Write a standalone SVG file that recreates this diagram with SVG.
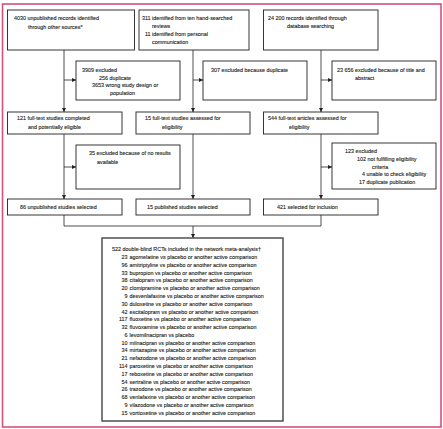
<svg xmlns="http://www.w3.org/2000/svg" width="443" height="429" viewBox="0 0 443 429">
<style>
.frame{fill:none;stroke:#d6507a;stroke-width:1.6}
.box{fill:#fff;stroke:#231f20;stroke-width:0.9}
.big{fill:#fff;stroke:#444;stroke-width:1.4}
.t{font-family:"Liberation Sans",Arial,sans-serif;font-size:5.4px;fill:#231f20;stroke:#231f20;stroke-width:0.12}
.n{text-anchor:end}
.c{fill:none;stroke:#231f20;stroke-width:0.8}
</style>
<defs>
<marker id="ah" markerUnits="userSpaceOnUse" markerWidth="4" markerHeight="4" viewBox="0 0 4 4" refX="4" refY="2" orient="auto">
<path d="M0,0 L4,2 L0,4 z" fill="#231f20"/>
</marker>
</defs>
<rect width="443" height="429" fill="#fff"/>
<rect class="frame" x="2.5" y="4" width="438.5" height="423"/>

<g id="connectors">
<line class="c" x1="64" y1="50" x2="64" y2="112" marker-end="url(#ah)"/>
<line class="c" x1="64" y1="80" x2="76" y2="80" marker-end="url(#ah)"/>
<line class="c" x1="64" y1="134" x2="64" y2="199" marker-end="url(#ah)"/>
<line class="c" x1="64" y1="167" x2="76" y2="167" marker-end="url(#ah)"/>
<line class="c" x1="193" y1="50" x2="193" y2="112" marker-end="url(#ah)"/>
<line class="c" x1="193" y1="80" x2="203" y2="80" marker-end="url(#ah)"/>
<line class="c" x1="193" y1="134" x2="193" y2="199" marker-end="url(#ah)"/>
<line class="c" x1="321" y1="50" x2="321" y2="112" marker-end="url(#ah)"/>
<line class="c" x1="321" y1="80" x2="332" y2="80" marker-end="url(#ah)"/>
<line class="c" x1="321" y1="134" x2="321" y2="199" marker-end="url(#ah)"/>
<line class="c" x1="321" y1="167" x2="332" y2="167" marker-end="url(#ah)"/>
<polyline class="c" points="64,215 64,226 321,226 321,215"/>
<line class="c" x1="193" y1="226" x2="193" y2="238" marker-end="url(#ah)"/>
</g>

<g id="unpublished-records">
<rect class="box" x="7.5" y="10" width="127" height="40"/>
<text class="t" x="14" y="20.3">4030 unpublished records identified</text>
<text class="t" x="28" y="28.6">through other sources*</text>
</g>
<g id="hand-searched">
<rect class="box" x="139" y="10" width="110" height="40"/>
<text class="t n" x="150.5" y="20.3">311</text>
<text class="t" x="152" y="20.3">identified from ten hand-searched</text>
<text class="t" x="152" y="28.1">reviews</text>
<text class="t n" x="150.5" y="35.9">11</text>
<text class="t" x="152" y="35.9">identified from personal</text>
<text class="t" x="152" y="43.7">communication</text>
</g>
<g id="database">
<rect class="box" x="263.5" y="10" width="114.5" height="40"/>
<text class="t" x="268" y="20.3">24 200 records identified through</text>
<text class="t" x="287" y="28.4">database searching</text>
</g>

<g id="excluded-3909">
<rect class="box" x="76" y="61" width="104" height="39"/>
<text class="t" x="82" y="72.2">3909 excluded</text>
<text class="t" x="99" y="79.8">256 duplicate</text>
<text class="t" x="92" y="87.4">3653 wrong study design or</text>
<text class="t" x="110" y="95">population</text>
</g>
<g id="excluded-307">
<rect class="box" x="203" y="61" width="104" height="39"/>
<text class="t" x="211" y="72.2">307 excluded because duplicate</text>
</g>
<g id="excluded-23656">
<rect class="box" x="332" y="61" width="104" height="39"/>
<text class="t" x="337" y="72.2">23 656 excluded because of title and</text>
<text class="t" x="355" y="79.8">abstract</text>
</g>

<g id="fulltext-121">
<rect class="box" x="7.5" y="112" width="114.5" height="22"/>
<text class="t" x="17" y="120.3">121 full-text studies completed</text>
<text class="t" x="28" y="128.6">and potentially eligible</text>
</g>
<g id="fulltext-15">
<rect class="box" x="136" y="112" width="114" height="22"/>
<text class="t" x="145" y="120.3">15 full-text studies assessed for</text>
<text class="t" x="162" y="128.6">eligibility</text>
</g>
<g id="fulltext-544">
<rect class="box" x="263.5" y="112" width="114.5" height="22"/>
<text class="t" x="268" y="120.3">544 full-text articles assessed for</text>
<text class="t" x="289" y="128.6">eligibility</text>
</g>

<g id="excluded-35">
<rect class="box" x="76" y="145" width="104" height="44"/>
<text class="t" x="89" y="155.3">35 excluded because of no results</text>
<text class="t" x="97" y="163.6">available</text>
</g>
<g id="excluded-123">
<rect class="box" x="332" y="143" width="104" height="46"/>
<text class="t" x="345" y="153">123 excluded</text>
<text class="t" x="357" y="160.8">102 not fulfilling eligibility</text>
<text class="t" x="372" y="168.6">criteria</text>
<text class="t" x="362" y="176.4">4 unable to check eligibility</text>
<text class="t" x="359" y="184.2">17 duplicate publication</text>
</g>

<g id="selected-86">
<rect class="box" x="7.5" y="199" width="114.5" height="16"/>
<text class="t" x="20" y="208.7">86 unpublished studies selected</text>
</g>
<g id="selected-15">
<rect class="box" x="136" y="199" width="114" height="16"/>
<text class="t" x="147" y="208.7">15 published studies selected</text>
</g>
<g id="selected-421">
<rect class="box" x="263.5" y="199" width="114.5" height="16"/>
<text class="t" x="277" y="208.7">421 selected for inclusion</text>
</g>

<g id="included-522">
<rect class="big" x="102" y="238" width="181" height="183"/>
<text class="t" x="112" y="251.3">522 double-blind RCTs included in the network meta-analysis†</text>
<g class="t">
<text class="n" x="127.5" y="259.1">23</text><text x="129.5" y="259.1">agomelatine vs placebo or another active comparison</text>
<text class="n" x="127.5" y="266.9">96</text><text x="129.5" y="266.9">amitriptyline vs placebo or another active comparison</text>
<text class="n" x="127.5" y="274.6">33</text><text x="129.5" y="274.6">bupropion vs placebo or another active comparison</text>
<text class="n" x="127.5" y="282.4">38</text><text x="129.5" y="282.4">citalopram vs placebo or another active comparison</text>
<text class="n" x="127.5" y="290.2">20</text><text x="129.5" y="290.2">clomipramine vs placebo or another active comparison</text>
<text class="n" x="127.5" y="298">9</text><text x="129.5" y="298">desvenlafaxine vs placebo or another active comparison</text>
<text class="n" x="127.5" y="305.8">30</text><text x="129.5" y="305.8">duloxetine vs placebo or another active comparison</text>
<text class="n" x="127.5" y="313.5">42</text><text x="129.5" y="313.5">escitalopram vs placebo or another active comparison</text>
<text class="n" x="127.5" y="321.3">117</text><text x="129.5" y="321.3">fluoxetine vs placebo or another active comparison</text>
<text class="n" x="127.5" y="329.1">32</text><text x="129.5" y="329.1">fluvoxamine vs placebo or another active comparison</text>
<text class="n" x="127.5" y="336.9">6</text><text x="129.5" y="336.9">levomilnacipran vs placebo</text>
<text class="n" x="127.5" y="344.7">10</text><text x="129.5" y="344.7">milnacipran vs placebo or another active comparison</text>
<text class="n" x="127.5" y="352.4">34</text><text x="129.5" y="352.4">mirtazapine vs placebo or another active comparison</text>
<text class="n" x="127.5" y="360.2">21</text><text x="129.5" y="360.2">nefazodone vs placebo or another active comparison</text>
<text class="n" x="127.5" y="368">114</text><text x="129.5" y="368">paroxetine vs placebo or another active comparison</text>
<text class="n" x="127.5" y="375.8">17</text><text x="129.5" y="375.8">reboxetine vs placebo or another active comparison</text>
<text class="n" x="127.5" y="383.6">54</text><text x="129.5" y="383.6">sertraline vs placebo or another active comparison</text>
<text class="n" x="127.5" y="391.3">26</text><text x="129.5" y="391.3">trazodone vs placebo or another active comparison</text>
<text class="n" x="127.5" y="399.1">68</text><text x="129.5" y="399.1">venlafaxine vs placebo or another active comparison</text>
<text class="n" x="127.5" y="406.9">9</text><text x="129.5" y="406.9">vilazodone vs placebo or another active comparison</text>
<text class="n" x="127.5" y="414.7">15</text><text x="129.5" y="414.7">vortioxetine vs placebo or another active comparison</text>
</g>
</g>
</svg>
